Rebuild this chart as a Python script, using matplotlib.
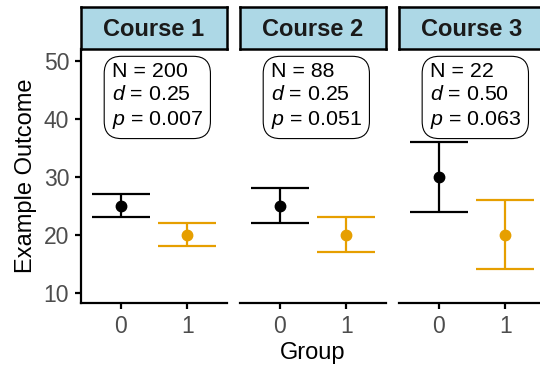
import matplotlib
matplotlib.use("Agg")
import matplotlib.pyplot as plt

plt.rcParams["font.family"] = ["Liberation Sans", "DejaVu Sans"]
plt.rcParams["mathtext.fontset"] = "custom"
plt.rcParams["mathtext.it"] = "Liberation Sans:italic"
plt.rcParams["mathtext.rm"] = "Liberation Sans"

# data
courses = ["Course 1", "Course 2", "Course 3"]
groups = ["0", "1"]
means = [[25, 20], [25, 20], [30, 20]]
lower = [[23, 18], [22, 17], [24, 14]]
upper = [[27, 22], [28, 23], [36, 26]]
n_vals = ["200", "88", "22"]
d_vals = ["0.25", "0.25", "0.50"]
p_vals = ["0.007", "0.051", "0.063"]

group_colors = ["black", "#E69F00"]
tick_grey = "#4D4D4D"

W, H = 540, 369
fig = plt.figure(figsize=(W / 100, H / 100), dpi=100)

panel_left = [81, 240, 399]
panel_w = 146
top, bottom = 49, 303
strip_top = 7

for i, course in enumerate(courses):
    ax = fig.add_axes([panel_left[i] / W, (H - bottom) / H,
                       panel_w / W, (bottom - top) / H])
    for g in range(len(groups)):
        m = means[i][g]
        ax.errorbar(g, m, yerr=[[m - lower[i][g]], [upper[i][g] - m]],
                    fmt="o", color=group_colors[g], ms=7.5, elinewidth=1.6,
                    capsize=21.2, capthick=1.6)
    ax.set_xlim(-0.6, 1.6)
    ax.set_ylim(8.2, 52.1)
    ax.set_xticks(range(len(groups)))
    ax.set_xticklabels(groups)
    ax.set_yticks([10, 20, 30, 40, 50])
    for s in ["top", "right"]:
        ax.spines[s].set_visible(False)
    ax.spines["bottom"].set_linewidth(1.6)
    ax.spines["left"].set_linewidth(1.6)
    ax.tick_params(width=1.6, length=4, labelsize=16.5, colors="black",
                   labelcolor=tick_grey, pad=4.5)
    if i == 0:
        ax.set_ylabel("Example Outcome", fontsize=17, labelpad=5)
    else:
        ax.spines["left"].set_visible(False)
        ax.tick_params(axis="y", left=False, labelleft=False)
    if i == 1:
        ax.set_xlabel("Group", fontsize=17, labelpad=3)

    # stats label box
    label = f"N = {n_vals[i]}\n$d$ = {d_vals[i]}\n$p$ = {p_vals[i]}"
    ax.text(0.55, 43.9, label, ha="center", va="center", ma="left",
            fontsize=15.4, linespacing=1.3,
            bbox=dict(boxstyle="round,pad=0.35,rounding_size=0.8",
                      fc="white", ec="black", lw=0.8))

    # facet strip
    sax = fig.add_axes([panel_left[i] / W, (H - top) / H,
                        panel_w / W, (top - strip_top) / H])
    sax.set_facecolor("#ADD8E6")
    sax.set_xticks([])
    sax.set_yticks([])
    for s in sax.spines.values():
        s.set_linewidth(1.8)
    sax.text(0.5, 0.46, course, ha="center", va="center",
             fontsize=17, fontweight="bold", color="#1A1A1A",
             transform=sax.transAxes)

fig.savefig("out.png", dpi=100)
